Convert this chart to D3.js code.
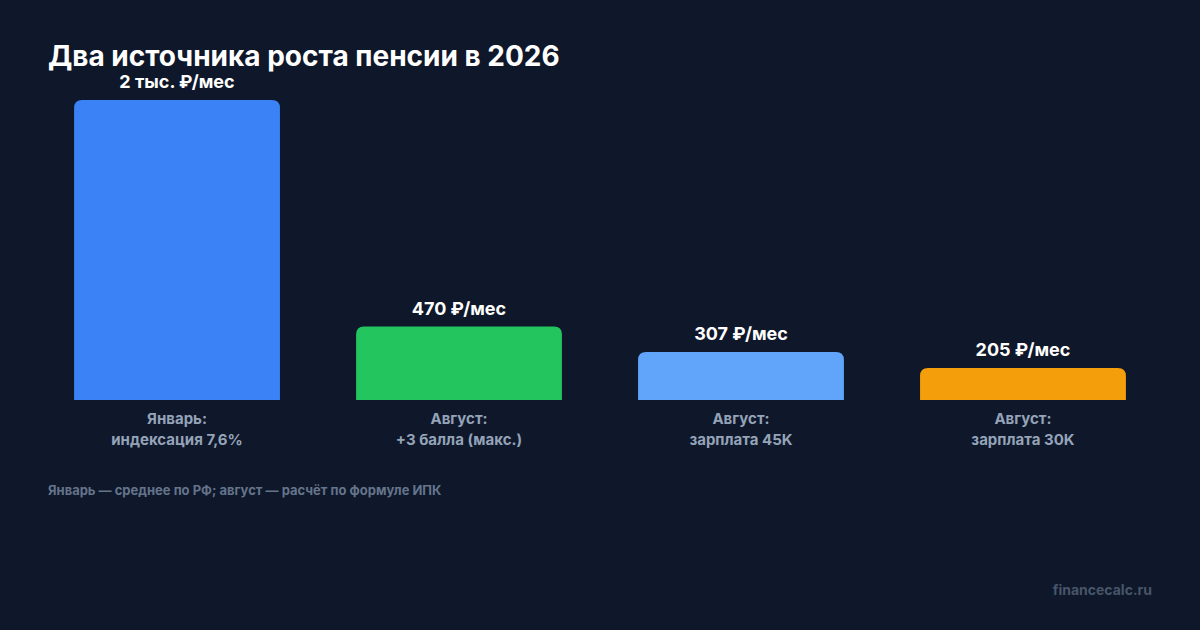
<!DOCTYPE html>
<html>
<head>
<meta charset="utf-8">
<script src="https://cdn.jsdelivr.net/npm/d3@7"></script>
<style>
  html, body { margin: 0; padding: 0; background: #0f172a; }
  svg { display: block; font-family: Inter, "Noto Sans", sans-serif; }
</style>
</head>
<body>
<div id="chart"></div>
<script>
// ---------------- DATA ----------------
const categories = ["jan", "aug3", "aug45", "aug30"];
const values = [1920, 470, 307, 205];
const valueLabels = ["2 тыс. ₽/мес", "470 ₽/мес", "307 ₽/мес", "205 ₽/мес"];
const catLines = [
  ["Январь:", "индексация 7,6%"],
  ["Август:", "+3 балла (макс.)"],
  ["Август:", "зарплата 45K"],
  ["Август:", "зарплата 30K"]
];
const colors = ["#3b82f6", "#22c55e", "#60a5fa", "#f59e0b"];

const width = 1200, height = 630;

const svg = d3.select("#chart").append("svg")
  .attr("width", width)
  .attr("height", height);

svg.append("rect").attr("width", width).attr("height", height).attr("fill", "#0f172a");

// ---------------- TITLE ----------------
svg.append("text")
  .attr("x", 48).attr("y", 66)
  .attr("fill", "#ffffff")
  .style("font-size", "28px")
  .style("font-weight", "700")
  .text("Два источника роста пенсии в 2026");

// ---------------- SCALES ----------------
const x = d3.scaleBand().domain(categories).range([60, 1140])
  .paddingInner(0.27).paddingOuter(0.05);
const y = d3.scaleLinear().domain([0, d3.max(values)]).range([400, 100]);

const data = categories.map((c, i) => ({c, v: values[i], label: valueLabels[i], lines: catLines[i], color: colors[i]}));

// bar with rounded top corners
function barPath(d) {
  const x0 = x(d.c), w = x.bandwidth(), y0 = y(d.v), y1 = y(0);
  const r = Math.min(8, (y1 - y0));
  return `M${x0},${y1}V${y0 + r}Q${x0},${y0} ${x0 + r},${y0}H${x0 + w - r}Q${x0 + w},${y0} ${x0 + w},${y0 + r}V${y1}Z`;
}

svg.selectAll(".bar")
  .data(data)
  .enter()
  .append("path")
  .attr("class", "bar")
  .attr("d", barPath)
  .attr("fill", d => d.color);

svg.selectAll(".val")
  .data(data)
  .enter()
  .append("text")
  .attr("class", "val")
  .attr("x", d => x(d.c) + x.bandwidth() / 2)
  .attr("y", d => y(d.v) - 12)
  .attr("text-anchor", "middle")
  .attr("fill", "#ffffff")
  .style("font-size", "18px")
  .style("font-weight", "700")
  .text(d => d.label);

const cat = svg.selectAll(".cat")
  .data(data)
  .enter()
  .append("text")
  .attr("class", "cat")
  .attr("text-anchor", "middle")
  .attr("fill", "#94a3b8")
  .style("font-size", "15px")
  .style("font-weight", "700");

cat.selectAll("tspan")
  .data(d => d.lines.map(t => ({t, cx: x(d.c) + x.bandwidth() / 2})))
  .enter()
  .append("tspan")
  .attr("x", d => d.cx)
  .attr("y", (d, i) => 424 + i * 21)
  .text(d => d.t);

// ---------------- FOOTNOTE ----------------
svg.append("text")
  .attr("x", 48).attr("y", 495)
  .attr("fill", "#64748b")
  .style("font-size", "13px")
  .style("font-weight", "700")
  .text("Январь — среднее по РФ; август — расчёт по формуле ИПК");

svg.append("text")
  .attr("x", 1152).attr("y", 595)
  .attr("text-anchor", "end")
  .attr("fill", "#475569")
  .style("font-size", "14px")
  .style("font-weight", "700")
  .text("financecalc.ru");
</script>
</body>
</html>
